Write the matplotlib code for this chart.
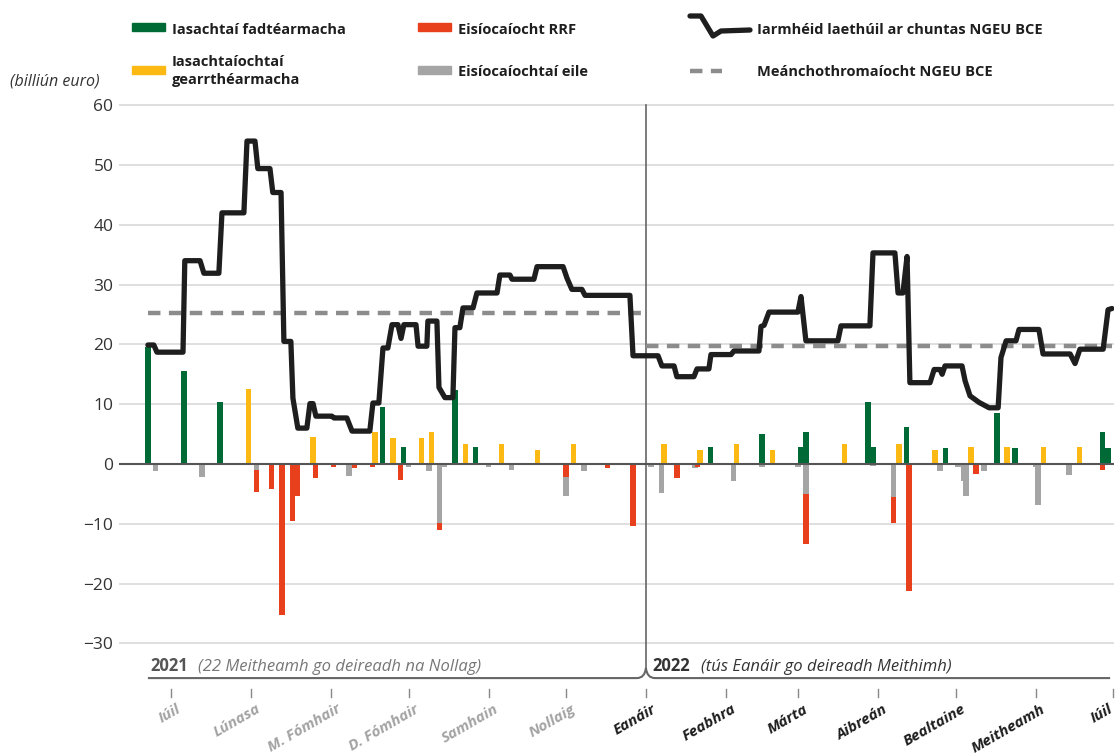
import numpy as np
import pandas as pd
import matplotlib
matplotlib.use('Agg')
import matplotlib.pyplot as plt
from matplotlib.path import Path
from matplotlib.patches import PathPatch, Rectangle
from matplotlib.lines import Line2D

plt.rcParams['font.family'] = ['Open Sans', 'DejaVu Sans']

START = pd.Timestamp('2021-06-22')

# days counted from 22 June 2021
green_day = [0, 14, 28, 91, 99, 119, 127, 218, 238, 253, 255, 279, 281, 294,
             309, 329, 336, 370, 372]
green_val = [19.6, 15.5, 10.3, 9.5, 2.9, 12.3, 2.9, 2.9, 5.1, 2.9, 5.4, 10.3,
             2.8, 6.2, 2.6, 8.6, 2.7, 5.3, 2.7]

yellow_day = [39, 64, 88, 95, 106, 110, 123, 137, 151, 165, 200, 214, 228,
              242, 270, 291, 305, 319, 333, 347, 361]
yellow_val = [12.5, 4.5, 5.4, 4.4, 4.4, 5.4, 3.4, 3.4, 2.4, 3.4, 3.4, 2.4,
              3.4, 2.4, 3.4, 3.4, 2.4, 2.9, 2.9, 2.9, 2.9]

grey_day = [3, 21, 42, 78, 101, 109, 113, 115, 132, 141, 162, 169, 195, 199,
            212, 227, 238, 252, 255, 281, 289, 307, 314, 316, 317, 324, 344,
            345, 357]
grey_val = [-1.2, -2.2, -1.0, -2.0, -0.5, -1.1, -9.8, -0.5, -0.5, -1.0, -3.2,
            -1.2, -0.5, -4.9, -0.6, -2.8, -0.5, -0.5, -5.0, -0.4, -5.5, -1.1,
            -0.5, -2.8, -5.3, -1.1, -0.5, -6.8, -1.9]

red_day = [42, 48, 52, 56, 58, 65, 72, 80, 87, 98, 113, 162, 178, 188, 205,
           213, 255, 289, 295, 321, 370]
red_val = [-3.7, -4.2, -25.3, -9.6, -5.4, -2.4, -0.5, -0.6, -0.5, -2.6, -1.2,
           -2.1, -0.6, -10.3, -2.3, -0.5, -8.3, -4.4, -21.3, -1.6, -1.0]
# days where the RRF payment sits above the other payment
red_first = [162]

bal_day = [0, 2.3, 3.5, 13.6, 14.3, 20.2, 21.7, 27.5, 28.7, 37.2, 38.4, 41.5,
           42.6, 47.3, 48.4, 51.6, 52.7, 55.4, 56.2, 58.1, 61.6, 62.8, 64.0,
           65.1, 71.3, 72.1, 77.1, 79.1, 86.0, 87.2, 89.5, 91.1, 93.0, 94.6,
           96.9, 98.1, 99.2, 103.9, 104.7, 108.1, 108.5, 112.0, 112.8, 115.1,
           118.2, 119.0, 120.9, 122.1, 126.0, 127.5, 135.3, 136.4, 140.3,
           141.1, 149.6, 150.8, 160.9, 162.4, 164.3, 168.2, 169.4, 186.8,
           188.0, 197.7, 199.2, 203.9, 205.0, 211.6, 212.8, 217.4, 218.2,
           226.0, 227.1, 236.8, 237.6, 238.8, 240.7, 251.9, 253.1, 255.0,
           267.4, 268.6, 279.8, 281.0, 289.5, 290.7, 292.6, 294.2, 295.3,
           303.1, 304.7, 307.0, 307.8, 308.9, 315.5, 316.7, 318.6, 322.1,
           326.0, 329.5, 330.6, 332.6, 336.4, 337.6, 345.3, 346.9, 357.4,
           359.3, 361.2, 370.2, 372.1, 373.6]
bal_val = [19.9, 19.9, 18.7, 18.7, 34.0, 34.0, 31.9, 31.9, 42.0, 42.0, 54.0,
           54.0, 49.4, 49.4, 45.4, 45.4, 20.5, 20.5, 11.0, 6.0, 6.0, 10.1,
           10.1, 8.0, 8.0, 7.7, 7.7, 5.5, 5.5, 10.2, 10.2, 19.4, 19.4, 23.3,
           23.3, 21.0, 23.3, 23.3, 19.7, 19.7, 23.9, 23.9, 12.8, 11.1, 11.1,
           22.8, 22.8, 26.1, 26.1, 28.6, 28.6, 31.6, 31.6, 30.9, 30.9, 33.0,
           33.0, 31.1, 29.2, 29.2, 28.2, 28.2, 18.1, 18.1, 16.4, 16.4, 14.6,
           14.6, 15.9, 15.9, 18.3, 18.3, 18.9, 18.9, 23.0, 23.2, 25.4, 25.4,
           28.0, 20.6, 20.6, 23.1, 23.1, 35.3, 35.3, 28.6, 28.6, 34.7, 13.6,
           13.6, 15.8, 15.8, 15.0, 16.4, 16.4, 13.9, 11.4, 10.3, 9.4, 9.4,
           17.8, 20.6, 20.6, 22.5, 22.5, 18.4, 18.4, 16.8, 19.2, 19.2, 25.8,
           26.0]

avg_start = [0, 193]
avg_end = [193, 373.6]
avg_val = [25.3, 19.7]

months = ['2021-07-01', '2021-08-01', '2021-09-01', '2021-10-01', '2021-11-01',
          '2021-12-01', '2022-01-01', '2022-02-01', '2022-03-01', '2022-04-01',
          '2022-05-01', '2022-06-01', '2022-07-01']
month_labels = ['Iúil', 'Lúnasa', 'M. Fómhair', 'D. Fómhair', 'Samhain',
                'Nollaig', 'Eanáir', 'Feabhra', 'Márta', 'Aibreán',
                'Bealtaine', 'Meitheamh', 'Iúil']

C_GREEN = '#006a36'
C_YELLOW = '#fdb913'
C_RED = '#e8401c'
C_GREY = '#a5a5a5'
C_LINE = '#1e1e1e'
C_AVG = '#8c8c8c'

W, H = 1115, 756


def fx(px):
    return px / W


def fy(py):
    return 1 - py / H


fig = plt.figure(figsize=(W / 100, H / 100), dpi=100)
ax = fig.add_axes([fx(119), fy(756), fx(995), 656 / H])
ax.set_xlim(-11.2, 374.4)
ax.set_ylim(-48.83, 60.87)
for s in ax.spines.values():
    s.set_visible(False)
ax.set_xticks([])
ax.set_yticks(np.arange(-30, 61, 10))
ax.tick_params(axis='y', length=0, pad=4, labelsize=12.5, labelcolor='#333333')
for v in np.arange(-30, 61, 10):
    ax.plot([-11.2, 374.4], [v, v], color='#d9d9d9', lw=1.2, zorder=0)

bw = 2.1
ax.bar(green_day, green_val, width=bw, color=C_GREEN, zorder=2)
ax.bar(yellow_day, yellow_val, width=bw, color=C_YELLOW, zorder=2)

# stack the negative payments
grey_map = dict(zip(grey_day, grey_val))
red_map = dict(zip(red_day, red_val))
for d, v in grey_map.items():
    b = red_map.get(d, 0) if d in red_first else 0
    ax.bar(d, v, bottom=b, width=bw, color=C_GREY, zorder=2)
for d, v in red_map.items():
    b = 0 if d in red_first else grey_map.get(d, 0)
    ax.bar(d, v, bottom=b, width=bw, color=C_RED, zorder=2)

ax.axhline(0, color='#555555', lw=1.5, zorder=3)

for s, e, v in zip(avg_start, avg_end, avg_val):
    ax.plot([s, e], [v, v], color=C_AVG, lw=3.2, ls=(0, (2.8, 1.9)), zorder=4)

ax.plot(bal_day, bal_val, color=C_LINE, lw=3.8, solid_joinstyle='round',
        solid_capstyle='round', zorder=5)

# year split and brace
jan = (pd.Timestamp('2022-01-01') - START).days
ax.plot([jan, jan], [60, -34.1], color='#666666', lw=1.2, zorder=1,
        clip_on=False)
yb, yt = -35.8, -34.1
verts = [(0, yb), (jan - 3.5, yb), (jan - 0.4, yb), (jan, yt),
         (jan + 0.4, yb), (jan + 3.5, yb), (372.9, yb)]
codes = [Path.MOVETO, Path.LINETO, Path.CURVE3, Path.CURVE3, Path.CURVE3,
         Path.CURVE3, Path.LINETO]
ax.add_patch(PathPatch(Path(verts, codes), fill=False, ec='#666666', lw=1.5,
                       clip_on=False))
ax.text(0.8, -34.6, '2021', fontsize=12, fontweight='bold', color='#555555',
        va='baseline')
ax.text(19.5, -34.6, '(22 Meitheamh go deireadh na Nollag)', fontsize=12,
        style='italic', color='#777777', va='baseline')
ax.text(jan + 2.6, -34.6, '2022', fontsize=12, fontweight='bold',
        color='#333333', va='baseline')
ax.text(jan + 21.3, -34.6, '(tús Eanáir go deireadh Meithimh)', fontsize=12,
        style='italic', color='#333333', va='baseline')

for m, lab in zip(months, month_labels):
    d = (pd.Timestamp(m) - START).days
    col = '#a3a3a3' if m < '2022' else '#1e1e1e'
    ax.plot([d, d], [-37.6, -39.0], color='#888888', lw=1, clip_on=False)
    ax.text(min(d + 2.0, 372.0), -39.8, lab, rotation=30,
            rotation_mode='anchor', ha='right', va='top', fontsize=11,
            fontweight='bold', style='italic', color=col, clip_on=False)

# legend
fig.text(fx(10), fy(82), '(billiún euro)', fontsize=11.5, style='italic',
         color='#333333', va='center')
patches = [(132, 27, C_GREEN), (132, 70, C_YELLOW), (418, 27, C_RED),
           (418, 70, C_GREY)]
for px, py, c in patches:
    fig.patches.append(Rectangle((fx(px), fy(py + 3.5)), fx(33), 7 / H,
                                 transform=fig.transFigure, color=c))
leg_txt = [(172, 30, 'Iasachtaí fadtéarmacha'),
           (172, 71, 'Iasachtaíochtaí\ngearrthéarmacha'),
           (458, 30, 'Eisíocaíocht RRF'),
           (458, 72, 'Eisíocaíochtaí eile'),
           (757, 30, 'Iarmhéid laethúil ar chuntas NGEU BCE'),
           (757, 72, 'Meánchothromaíocht NGEU BCE')]
for px, py, t in leg_txt:
    fig.text(fx(px), fy(py), t, fontsize=10.5, fontweight='bold',
             color='#1e1e1e', va='center', linespacing=1.35)
icon_x = [690, 701, 713, 721, 750]
icon_y = [16, 16, 36, 31, 30]
fig.lines.append(Line2D([fx(v) for v in icon_x], [fy(v) for v in icon_y],
                        transform=fig.transFigure, color=C_LINE, lw=3.8,
                        solid_joinstyle='round', solid_capstyle='round'))
fig.lines.append(Line2D([fx(690), fx(722)], [fy(71), fy(71)],
                        transform=fig.transFigure, color=C_AVG, lw=3.2,
                        ls=(0, (2.8, 1.9))))

fig.savefig('out.png', dpi=100)
